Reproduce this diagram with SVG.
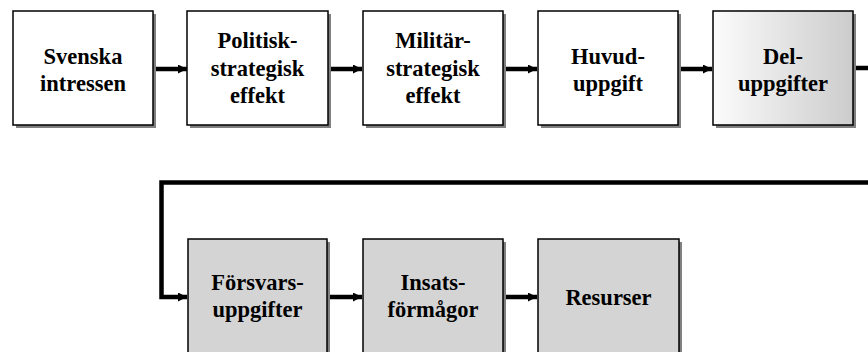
<svg xmlns="http://www.w3.org/2000/svg" width="868" height="352" viewBox="0 0 868 352">
<style>
.box{stroke:#000;stroke-width:1.5}
.sh{fill:#808080}
.w{fill:#fff}
.g{fill:#d4d4d4}
.t{font-family:"Liberation Serif","Times New Roman",serif;font-weight:bold;font-size:22.5px;fill:#000;text-anchor:middle}
.c{fill:none;stroke:#000;stroke-width:4.5}
</style>
<defs>
<linearGradient id="grad" x1="0" y1="0" x2="1" y2="0">
<stop offset="0" stop-color="#fcfcfc"/>
<stop offset="1" stop-color="#cccccc"/>
</linearGradient>
<marker id="ah" viewBox="0 0 10 10" refX="10" refY="5" markerUnits="userSpaceOnUse" markerWidth="10" markerHeight="9" orient="auto">
<path d="M0,0 L10,5 L0,10 z" fill="#000"/>
</marker>
</defs>
<g id="connectors">
<line class="c" x1="156" y1="69" x2="187" y2="69" marker-end="url(#ah)"/>
<line class="c" x1="331" y1="69" x2="362" y2="69" marker-end="url(#ah)"/>
<line class="c" x1="506" y1="69" x2="537" y2="69" marker-end="url(#ah)"/>
<line class="c" x1="681" y1="69" x2="712" y2="69" marker-end="url(#ah)"/>
<polyline class="c" points="856,68 880,68 880,182.5 161.5,182.5 161.5,297 187,297" marker-end="url(#ah)"/>
<line class="c" x1="330" y1="297" x2="362" y2="297" marker-end="url(#ah)"/>
<line class="c" x1="506" y1="297" x2="537" y2="297" marker-end="url(#ah)"/>
</g>
<g id="n1">
<rect class="sh" x="16" y="14" width="140" height="114"/>
<rect class="box w" x="13" y="11" width="140" height="114"/>
<text class="t" x="83" y="64">Svenska</text>
<text class="t" x="83" y="91">intressen</text>
</g>
<g id="n2">
<rect class="sh" x="190" y="14" width="141" height="114"/>
<rect class="box w" x="187" y="11" width="141" height="114"/>
<text class="t" x="257.5" y="48">Politisk-</text>
<text class="t" x="257.5" y="75.5">strategisk</text>
<text class="t" x="257.5" y="103">effekt</text>
</g>
<g id="n3">
<rect class="sh" x="366" y="14" width="140" height="114"/>
<rect class="box w" x="363" y="11" width="140" height="114"/>
<text class="t" x="433" y="48">Militär-</text>
<text class="t" x="433" y="75.5">strategisk</text>
<text class="t" x="433" y="103">effekt</text>
</g>
<g id="n4">
<rect class="sh" x="541" y="14" width="140" height="114"/>
<rect class="box w" x="538" y="11" width="140" height="114"/>
<text class="t" x="608" y="64">Huvud-</text>
<text class="t" x="608" y="91">uppgift</text>
</g>
<g id="n5">
<rect class="sh" x="716" y="14" width="140" height="114"/>
<rect class="box" fill="url(#grad)" x="713" y="11" width="140" height="114"/>
<text class="t" x="783" y="64">Del-</text>
<text class="t" x="783" y="91">uppgifter</text>
</g>
<g id="n6">
<rect class="sh" x="191" y="242" width="139" height="114"/>
<rect class="box g" x="188" y="239" width="139" height="114"/>
<text class="t" x="257.5" y="290">Försvars-</text>
<text class="t" x="257.5" y="317">uppgifter</text>
</g>
<g id="n7">
<rect class="sh" x="366" y="242" width="140" height="114"/>
<rect class="box g" x="363" y="239" width="140" height="114"/>
<text class="t" x="433" y="290">Insats-</text>
<text class="t" x="433" y="317">förmågor</text>
</g>
<g id="n8">
<rect class="sh" x="541" y="242" width="141" height="114"/>
<rect class="box g" x="538" y="239" width="141" height="114"/>
<text class="t" x="608.5" y="305">Resurser</text>
</g>
</svg>
